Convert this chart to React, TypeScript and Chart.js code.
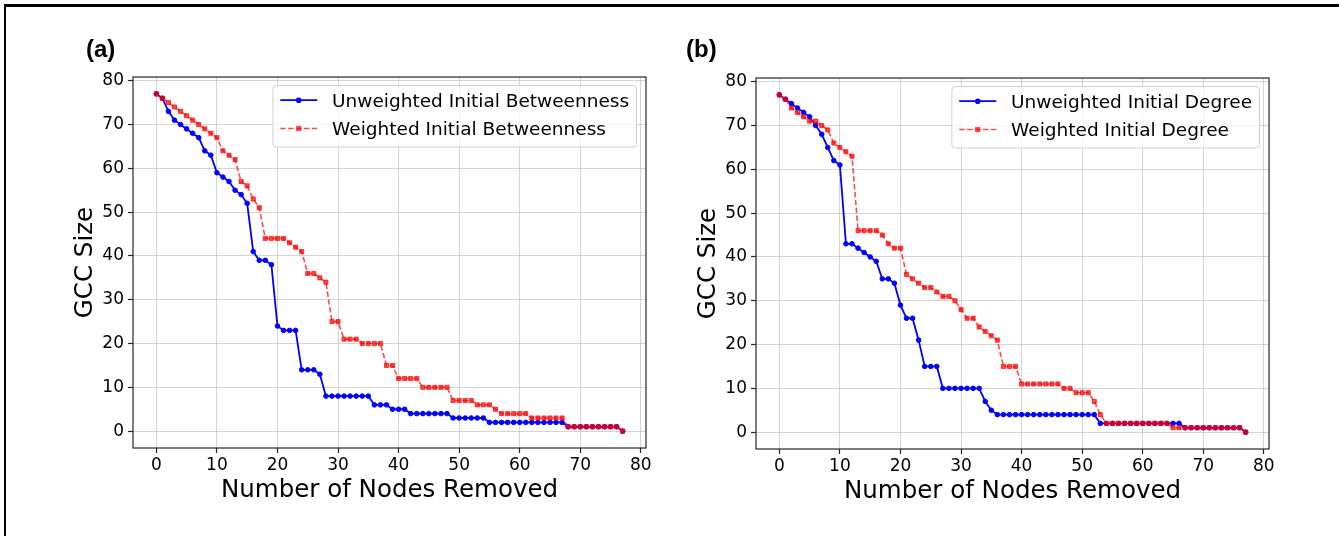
import React, { useEffect, useRef } from "react";
import { Chart, registerables } from "chart.js";

Chart.register(...registerables);

// ---------------- data ----------------
const xTicks = [0, 10, 20, 30, 40, 50, 60, 70, 80];
const yTicks = [0, 10, 20, 30, 40, 50, 60, 70, 80];

const unweightedBetweenness = [
  77, 76, 73, 71, 70, 69, 68, 67, 64, 63, 59, 58, 57, 55, 54, 52,
  41, 39, 39, 38, 24, 23, 23, 23, 14, 14, 14, 13,
  8, 8, 8, 8, 8, 8, 8, 8, 6, 6, 6, 5, 5, 5,
  4, 4, 4, 4, 4, 4, 4, 3, 3, 3, 3, 3, 3,
  2, 2, 2, 2, 2, 2, 2, 2, 2, 2, 2, 2, 2,
  1, 1, 1, 1, 1, 1, 1, 1, 1, 0,
];
const weightedBetweenness = [
  77, 76, 75, 74, 73, 72, 71, 70, 69, 68, 67, 64, 63, 62,
  57, 56, 53, 51, 44, 44, 44, 44, 43, 42, 41,
  36, 36, 35, 34, 25, 25, 21, 21, 21, 20, 20, 20, 20,
  15, 15, 12, 12, 12, 12, 10, 10, 10, 10, 10,
  7, 7, 7, 7, 6, 6, 6, 5, 4, 4, 4, 4, 4,
  3, 3, 3, 3, 3, 3, 1, 1, 1, 1, 1, 1, 1, 1, 1, 0,
];
const unweightedDegree = [
  77, 76, 75, 74, 73, 72, 70, 68, 65, 62, 61,
  43, 43, 42, 41, 40, 39, 35, 35, 34, 29, 26, 26, 21,
  15, 15, 15, 10, 10, 10, 10, 10, 10, 10, 7, 5,
  4, 4, 4, 4, 4, 4, 4, 4, 4, 4, 4, 4, 4, 4, 4, 4, 4,
  2, 2, 2, 2, 2, 2, 2, 2, 2, 2, 2, 2, 2, 2,
  1, 1, 1, 1, 1, 1, 1, 1, 1, 1, 0,
];
const weightedDegree = [
  77, 76, 74, 73, 72, 71, 71, 70, 69, 66, 65, 64, 63,
  46, 46, 46, 46, 45, 43, 42, 42,
  36, 35, 34, 33, 33, 32, 31, 31, 30,
  28, 26, 26, 24, 23, 22, 21, 15, 15, 15,
  11, 11, 11, 11, 11, 11, 11, 10, 10, 9, 9, 9, 7, 4,
  2, 2, 2, 2, 2, 2, 2, 2, 2, 2, 2,
  1, 1, 1, 1, 1, 1, 1, 1, 1, 1, 1, 1, 0,
];

const labelsA = ["Unweighted Initial Betweenness", "Weighted Initial Betweenness"];
const labelsB = ["Unweighted Initial Degree", "Weighted Initial Degree"];

// ---------------- styles ----------------
const BLUE = "#0000ff";
const RED = "rgba(255,0,0,0.7)";
const FONT = '"DejaVu Sans", Verdana, sans-serif';
const LEG_FS = 18.5;

const extrasPlugin = {
  id: "panelExtras",
  afterDraw(chart: any, _args: any, opts: any) {
    const { ctx, chartArea: ca } = chart;
    ctx.save();
    // axes frame
    ctx.strokeStyle = "#262626";
    ctx.lineWidth = 1.2;
    ctx.setLineDash([]);
    ctx.strokeRect(ca.left, ca.top, ca.right - ca.left, ca.bottom - ca.top);

    // legend
    const fs = LEG_FS;
    ctx.font = `${fs}px ${FONT}`;
    const labels: string[] = opts.labels;
    const textW = Math.max(...labels.map((l) => ctx.measureText(l).width));
    const pad = 0.4 * fs;
    const handle = 2 * fs;
    const gap = 0.8 * fs;
    const boxW = pad + handle + gap + textW + pad;
    const right = ca.right - 9.5;
    const left = right - boxW;
    const top = ca.top + 8.5;
    const boxH = 61.5;
    ctx.beginPath();
    ctx.roundRect(left, top, boxW, boxH, 3.5);
    ctx.fillStyle = "rgba(255,255,255,0.8)";
    ctx.fill();
    ctx.strokeStyle = "#d0d0d0";
    ctx.lineWidth = 1;
    ctx.stroke();

    const rows = [top + 14.7, top + 43];
    const x0 = left + pad;
    const x1 = x0 + handle;
    const xm = (x0 + x1) / 2;
    // blue row
    ctx.strokeStyle = BLUE;
    ctx.lineWidth = 1.8;
    ctx.beginPath();
    ctx.moveTo(x0, rows[0]);
    ctx.lineTo(x1, rows[0]);
    ctx.stroke();
    ctx.fillStyle = BLUE;
    ctx.beginPath();
    ctx.arc(xm, rows[0], 2.8, 0, Math.PI * 2);
    ctx.fill();
    // red row
    ctx.strokeStyle = RED;
    ctx.lineWidth = 1.6;
    ctx.setLineDash([5.5, 2.4]);
    ctx.beginPath();
    ctx.moveTo(x0, rows[1]);
    ctx.lineTo(x1, rows[1]);
    ctx.stroke();
    ctx.setLineDash([]);
    ctx.fillStyle = RED;
    ctx.fillRect(xm - 2.6, rows[1] - 2.6, 5.2, 5.2);

    ctx.fillStyle = "#000";
    ctx.textAlign = "left";
    ctx.textBaseline = "alphabetic";
    labels.forEach((l, i) => {
      ctx.fillText(l, x1 + gap, rows[i] + 0.364 * fs);
    });

    // panel tag
    ctx.font = 'bold 24px "Liberation Sans", Arial, sans-serif';
    ctx.fillStyle = "#000";
    ctx.fillText(opts.tag, opts.tagX, opts.tagY);
    ctx.restore();
  },
};

function makeConfig(unw: number[], w: number[], labels: string[], tag: string, tagX: number, tagY: number): any {
  const toPts = (arr: number[]) => arr.map((v, i) => ({ x: i, y: v }));
  const tickFont = { family: FONT, size: 17 };
  const titleFont = { family: FONT, size: 24.5 };
  const grid = {
    color: "rgba(176,176,176,0.55)",
    lineWidth: 1,
    tickColor: "#262626",
    tickLength: 5,
    tickWidth: 1.2,
    drawTicks: true,
  };
  return {
    type: "line",
    data: {
      datasets: [
        {
          label: labels[0],
          data: toPts(unw),
          borderColor: BLUE,
          backgroundColor: BLUE,
          borderWidth: 1.8,
          pointStyle: "circle",
          pointRadius: 2.3,
          pointBorderWidth: 1,
          pointBackgroundColor: BLUE,
          pointBorderColor: BLUE,
          order: 2,
        },
        {
          label: labels[1],
          data: toPts(w),
          borderColor: RED,
          backgroundColor: RED,
          borderWidth: 1.6,
          borderDash: [5.5, 2.4],
          pointStyle: "rect",
          pointRadius: 2.9,
          pointBorderWidth: 1,
          pointBackgroundColor: RED,
          pointBorderColor: RED,
          order: 1,
        },
      ],
    },
    options: {
      animation: false,
      responsive: false,
      devicePixelRatio: 1,
      events: [],
      layout: { padding: { top: 77, right: 23, left: 0, bottom: 0 } },
      plugins: {
        legend: { display: false },
        tooltip: { enabled: false },
        panelExtras: { labels, tag, tagX, tagY },
      },
      scales: {
        x: {
          type: "linear",
          min: -3.85,
          max: 80.85,
          afterBuildTicks: (s: any) => {
            s.ticks = xTicks.map((v) => ({ value: v }));
          },
          afterFit: (s: any) => {
            s.height = 88;
          },
          ticks: { font: tickFont, color: "#000", padding: 2, maxRotation: 0, autoSkip: false },
          grid,
          border: { display: false },
          title: {
            display: true,
            text: "Number of Nodes Removed",
            font: titleFont,
            color: "#000",
            padding: { top: 0, bottom: 30.5 },
          },
        },
        y: {
          type: "linear",
          min: -3.85,
          max: 80.85,
          afterBuildTicks: (s: any) => {
            s.ticks = yTicks.map((v) => ({ value: v }));
          },
          afterFit: (s: any) => {
            s.width = 133;
          },
          ticks: { font: tickFont, color: "#000", padding: 4, autoSkip: false },
          grid,
          border: { display: false },
          title: {
            display: true,
            text: "GCC Size",
            font: titleFont,
            color: "#000",
            padding: { top: 71.3, bottom: 0 },
          },
        },
      },
    },
    plugins: [extrasPlugin],
  };
}

export default function App() {
  const refA = useRef<HTMLCanvasElement>(null);
  const refB = useRef<HTMLCanvasElement>(null);
  useEffect(() => {
    const a = new Chart(refA.current as HTMLCanvasElement, makeConfig(unweightedBetweenness, weightedBetweenness, labelsA, "(a)", 86, 57));
    const b = new Chart(refB.current as HTMLCanvasElement, makeConfig(unweightedDegree, weightedDegree, labelsB, "(b)", 63, 56));
    return () => {
      a.destroy();
      b.destroy();
    };
  }, []);
  return (
    <div style={{ position: "fixed", left: 0, top: 0, width: 1339, height: 536, background: "#fff", overflow: "hidden" }}>
      <div
        style={{
          position: "absolute",
          left: 4,
          top: 4,
          width: 2000,
          height: 2000,
          borderTop: "3px solid #000",
          borderLeft: "2px solid #000",
        }}
      />
      <canvas ref={refA} width={669} height={536} style={{ position: "absolute", left: 0, top: 0 }} />
      <canvas ref={refB} width={669} height={536} style={{ position: "absolute", left: 623, top: 1 }} />
    </div>
  );
}
